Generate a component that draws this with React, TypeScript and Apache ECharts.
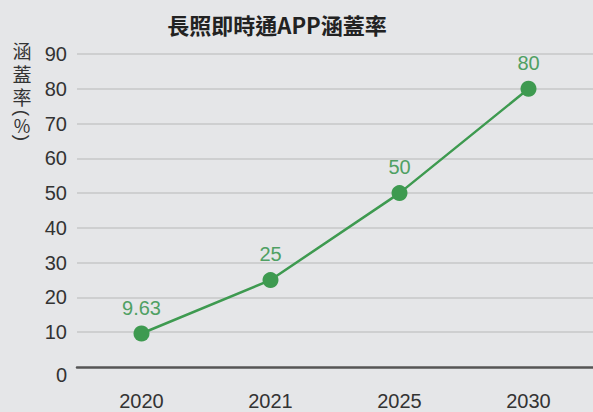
import React, { useEffect, useRef } from "react";
import * as echarts from "echarts";

const titleText = "長照即時通APP涵蓋率";
const years = ["2020", "2021", "2025", "2030"];
const coverage = [9.63, 25, 50, 80];
const pointLabels = ["9.63", "25", "50", "80"];
const yMin = 0;
const yMax = 90;
const yStep = 10;

const FONT = "'Liberation Sans', Arial, 'Noto Sans CJK TC', sans-serif";
const CJK = "'Noto Sans CJK TC', 'Liberation Sans', sans-serif";
const GRID = "#c6c7c9";

export default function App() {
  const ref = useRef<HTMLDivElement>(null);
  useEffect(() => {
    if (!ref.current) return;
    const chart = echarts.init(ref.current, undefined, { renderer: "svg" });
    const nLines = (yMax - yMin) / yStep + 1;
    const splitColors = Array.from({ length: nLines }, (_, i) => (i === 0 ? "rgba(0,0,0,0)" : GRID));
    const nameStyle = { fill: "#333", fontSize: 19, align: "center", verticalAlign: "middle" };
    const cjkChar = (ch: string, y: number) => ({
      type: "text",
      x: 22,
      y,
      style: { ...nameStyle, text: ch, fontFamily: FONT, fontSize: 19, lineHeight: 19 },
    });
    chart.setOption({
      animation: false,
      backgroundColor: "#e5e6e8",
      textStyle: { fontFamily: FONT },
      grid: { left: 77, right: 0, top: 54, bottom: 45, containLabel: false },
      graphic: [
        {
          type: "text",
          x: 277,
          y: 24,
          style: {
            text: titleText,
            align: "center",
            verticalAlign: "middle",
            fontFamily: CJK,
            fontWeight: "bold",
            fontSize: 22,
            fill: "#222",
          },
        },
        cjkChar("涵", 52),
        cjkChar("蓋", 75),
        cjkChar("率", 98),
        {
          type: "text",
          x: 22,
          y: 113,
          rotation: -Math.PI / 2,
          style: { ...nameStyle, text: "(", fontFamily: FONT },
        },
        {
          type: "text",
          x: 22,
          y: 125,
          style: { ...nameStyle, text: "%", fontFamily: CJK, fontSize: 18, lineHeight: 14 },
        },
        {
          type: "text",
          x: 22,
          y: 138,
          rotation: -Math.PI / 2,
          style: { ...nameStyle, text: ")", fontFamily: FONT },
        },
      ],
      xAxis: {
        type: "category",
        data: years,
        boundaryGap: true,
        offset: 6,
        axisLine: { show: true, lineStyle: { color: "#555", width: 2.5 } },
        axisTick: { show: false },
        axisLabel: { color: "#333", fontSize: 20, margin: 18, fontFamily: FONT },
      },
      yAxis: {
        type: "value",
        min: yMin,
        max: yMax,
        interval: yStep,
        axisLine: { show: false },
        axisTick: { show: false },
        splitLine: { show: true, lineStyle: { color: splitColors, width: 1.5 } },
        axisLabel: {
          color: "#333",
          fontSize: 20,
          margin: 10,
          fontFamily: FONT,
          formatter: (v: number) => (v === 0 ? "{z|0}" : "{n|" + v + "}"),
          rich: {
            z: { fontSize: 20, color: "#333", padding: [16, 0, 0, 0], fontFamily: FONT },
            n: { fontSize: 20, color: "#333", fontFamily: FONT },
          },
        },
      },
      series: [
        {
          type: "line",
          data: coverage,
          symbol: "circle",
          symbolSize: 16,
          lineStyle: { color: "#3e9a50", width: 2.5 },
          itemStyle: { color: "#3e9a50" },
          label: {
            show: true,
            position: "top",
            distance: 8,
            color: "#4fa063",
            fontSize: 20,
            fontFamily: FONT,
            formatter: (p: any) => pointLabels[p.dataIndex],
          },
        },
      ],
    });
    return () => chart.dispose();
  }, []);
  return (
    <div
      ref={ref}
      style={{ position: "fixed", left: 0, top: 0, width: 593, height: 412 }}
    />
  );
}
